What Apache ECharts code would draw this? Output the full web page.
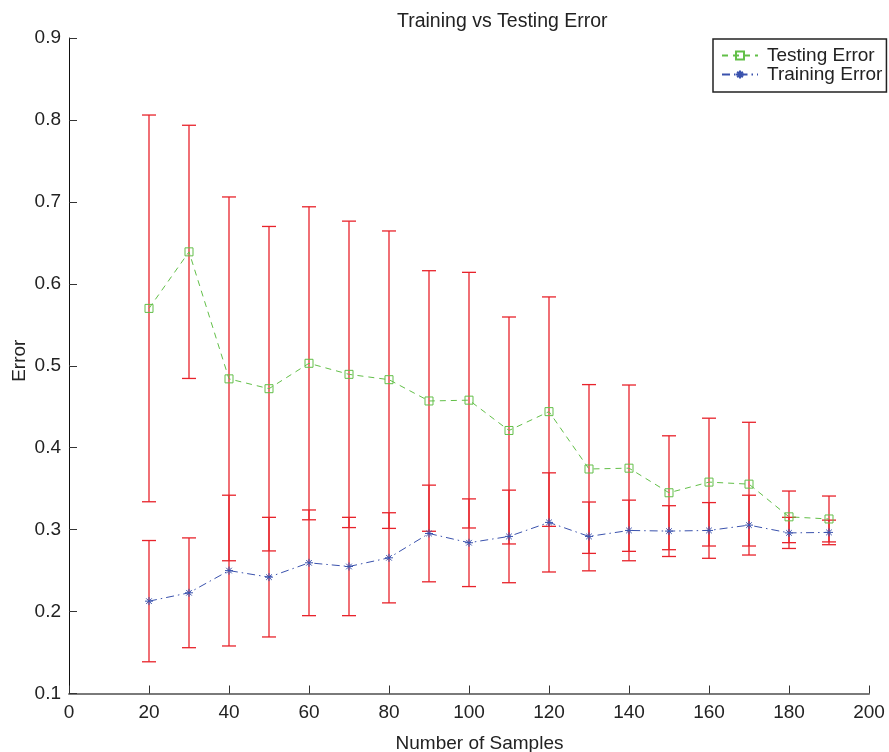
<!DOCTYPE html>
<html>
<head>
<meta charset="utf-8">
<script src="https://cdn.jsdelivr.net/npm/echarts@6/dist/echarts.min.js"></script>
<style>
  html, body { margin: 0; padding: 0; background: #fff; }
  #chart { width: 889px; height: 752px; }
</style>
</head>
<body>
<div id="chart"></div>
<script>
const samples = [20, 30, 40, 50, 60, 70, 80, 90, 100, 110, 120, 130, 140, 150, 160, 170, 180, 190];
const testingError = [0.570, 0.639, 0.484, 0.472, 0.503, 0.4895, 0.483, 0.457, 0.458, 0.421, 0.444, 0.374, 0.375, 0.345, 0.358, 0.3555, 0.3156, 0.313];
const testingStd = [0.236, 0.1545, 0.222, 0.198, 0.191, 0.187, 0.1815, 0.159, 0.156, 0.1385, 0.140, 0.103, 0.1015, 0.0695, 0.078, 0.0755, 0.0315, 0.028];
const trainingError = [0.2127, 0.2229, 0.250, 0.242, 0.2595, 0.255, 0.2656, 0.2953, 0.284, 0.2917, 0.3088, 0.2917, 0.299, 0.2982, 0.299, 0.3055, 0.296, 0.2966];
const trainingStd = [0.074, 0.067, 0.092, 0.073, 0.0645, 0.060, 0.055, 0.059, 0.0535, 0.0565, 0.0605, 0.042, 0.037, 0.031, 0.034, 0.0365, 0.019, 0.015];

const GREEN = '#62bf48';
const BLUE = '#3a52ad';
const RED = '#e8232b';
const TXT = '#222222';
const FONT = '"Liberation Sans", Arial, Helvetica, sans-serif';

const testBars = samples.map((x, i) => [x, testingError[i] - testingStd[i], testingError[i] + testingStd[i]]);
const trainBars = samples.map((x, i) => [x, trainingError[i] - trainingStd[i], trainingError[i] + trainingStd[i]]);

function errorBarRender(params, api) {
  const x = api.value(0);
  const lo = api.coord([x, api.value(1)]);
  const hi = api.coord([x, api.value(2)]);
  const hw = 7;
  const st = { stroke: RED, lineWidth: 1.3 };
  return {
    type: 'group',
    children: [
      { type: 'line', shape: { x1: hi[0], y1: hi[1], x2: lo[0], y2: lo[1] }, style: st },
      { type: 'line', shape: { x1: hi[0] - hw, y1: hi[1], x2: hi[0] + hw, y2: hi[1] }, style: st },
      { type: 'line', shape: { x1: lo[0] - hw, y1: lo[1], x2: lo[0] + hw, y2: lo[1] }, style: st }
    ]
  };
}

const chart = echarts.init(document.getElementById('chart'), null, { renderer: 'canvas' });
chart.setOption({
  animation: false,
  backgroundColor: '#ffffff',
  textStyle: { fontFamily: FONT, color: TXT },
  title: {
    text: 'Training vs Testing Error',
    left: 397, top: 12, padding: 0,
    textStyle: { fontFamily: FONT, fontSize: 19.5, fontWeight: 'normal', color: TXT }
  },
  legend: {
    orient: 'vertical',
    left: 713, top: 39,
    padding: [7, 4, 8, 8],
    itemGap: 0,
    itemWidth: 36, itemHeight: 10,
    borderColor: '#222', borderWidth: 1.5,
    backgroundColor: '#fff',
    textStyle: { fontFamily: FONT, fontSize: 19, color: TXT, lineHeight: 18, padding: [0, 0, 0, 4] },
    data: ['Testing Error', 'Training Error']
  },
  grid: { left: 69, right: 20, top: 38, bottom: 58.5, containLabel: false, outerBoundsMode: 'none' },
  xAxis: {
    type: 'value', min: 0, max: 200, interval: 20,
    name: 'Number of Samples', nameLocation: 'middle', nameGap: 41, nameMoveOverlap: false,
    nameTextStyle: { fontFamily: FONT, fontSize: 19, color: TXT, padding: [0, 0, 0, 21] },
    axisLine: { show: true, onZero: false, lineStyle: { color: '#7a7a7a', width: 2 } },
    axisTick: { show: true, inside: true, length: 8, lineStyle: { color: '#333', width: 1 } },
    axisLabel: { fontFamily: FONT, fontSize: 19, color: TXT, margin: 10 },
    splitLine: { show: false }
  },
  yAxis: {
    type: 'value', min: 0.1, max: 0.9, interval: 0.1,
    name: 'Error', nameLocation: 'middle', nameGap: 40, nameMoveOverlap: false,
    nameTextStyle: { fontFamily: FONT, fontSize: 19, color: TXT, padding: [0, 0, 0, 10] },
    axisLine: { show: true, onZero: false, lineStyle: { color: '#111', width: 1 } },
    axisTick: { show: true, inside: true, length: 8, lineStyle: { color: '#333', width: 1 } },
    axisLabel: { fontFamily: FONT, fontSize: 19, color: TXT, margin: 8, formatter: v => v.toFixed(1) },
    splitLine: { show: false }
  },
  series: [
    { type: 'custom', name: 'testBars', renderItem: errorBarRender, data: testBars, z: 2, silent: true },
    { type: 'custom', name: 'trainBars', renderItem: errorBarRender, data: trainBars, z: 2, silent: true },
    {
      type: 'line', name: 'Testing Error', z: 3,
      data: samples.map((x, i) => [x, testingError[i]]),
      symbol: 'path://M0,0L10,0L10,10L0,10Z', symbolSize: 8,
      itemStyle: { color: 'rgba(0,0,0,0)', borderColor: GREEN, borderWidth: 1 },
      lineStyle: { color: GREEN, width: 1, type: [6, 5] }
    },
    {
      type: 'line', name: 'Training Error', z: 3,
      data: samples.map((x, i) => [x, trainingError[i]]),
      symbol: 'path://M0,5L10,5M5,0L5,10M1.5,1.5L8.5,8.5M8.5,1.5L1.5,8.5', symbolSize: 8,
      itemStyle: { color: 'rgba(0,0,0,0)', borderColor: BLUE, borderWidth: 1 },
      lineStyle: { color: BLUE, width: 1, type: [8, 4, 1.5, 4] }
    }
  ]
});
</script>
</body>
</html>
